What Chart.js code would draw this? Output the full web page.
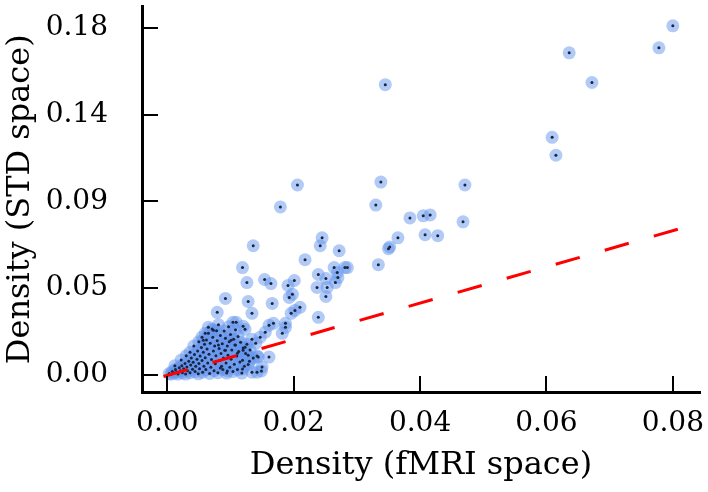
<!DOCTYPE html>
<html>
<head>
<meta charset="utf-8">
<script src="https://cdn.jsdelivr.net/npm/chart.js@4"></script>
<style>
  html, body { margin: 0; padding: 0; background: #fff; }
  #wrap { width: 708px; height: 492px; }
</style>
</head>
<body>
<div id="wrap"><canvas id="densityChart" width="708" height="492"></canvas></div>
<script>
// densities per region, fMRI space vs STD space
let fmriDensity = [
  0.0800, 0.0778, 0.0636, 0.0672, 0.0609, 0.0615, 0.0345, 0.0338, 0.0471, 0.0330,
  0.0384, 0.0405, 0.0416, 0.0468, 0.0408, 0.0428, 0.0365, 0.0350, 0.0352, 0.0272,
  0.0334, 0.0264, 0.0281, 0.0285, 0.0269, 0.0270, 0.0206, 0.0179, 0.0136, 0.0245,
  0.0242, 0.0218, 0.0119, 0.0239, 0.0251, 0.0154, 0.0126, 0.0164, 0.0201, 0.0191,
  0.0266, 0.0237, 0.0253, 0.0092, 0.0128, 0.0198, 0.0193, 0.0251, 0.0166, 0.0079,
  0.0210, 0.0196, 0.0239, 0.0134, 0.0104, 0.0109, 0.0120, 0.0123, 0.0161, 0.0168,
  0.0187, 0.0187, 0.0134, 0.0147, 0.0155, 0.0182, 0.0202, 0.0119, 0.0130, 0.0144,
  0.0161, 0.0119, 0.0134, 0.0142, 0.0149, 0.0150, 0.0095, 0.0084, 0.0128, 0.0142,
  0.0003, 0.0006, 0.0008, 0.0011, 0.0013, 0.0015, 0.0017, 0.0019, 0.0021, 0.0023,
  0.0024, 0.0026, 0.0028, 0.0029, 0.0031, 0.0032, 0.0034, 0.0036, 0.0037, 0.0038,
  0.0040, 0.0041, 0.0043, 0.0044, 0.0045, 0.0047, 0.0048, 0.0049, 0.0050, 0.0051,
  0.0052, 0.0054, 0.0055, 0.0056, 0.0057, 0.0058, 0.0059, 0.0060, 0.0061, 0.0062,
  0.0063, 0.0064, 0.0065, 0.0066, 0.0067, 0.0068, 0.0069, 0.0070, 0.0071, 0.0072,
  0.0073, 0.0074, 0.0075, 0.0076, 0.0077, 0.0078, 0.0079, 0.0080, 0.0081, 0.0082,
  0.0083, 0.0084, 0.0085, 0.0086, 0.0087, 0.0088, 0.0089, 0.0090, 0.0091, 0.0092,
  0.0093, 0.0094, 0.0095, 0.0096, 0.0097, 0.0098, 0.0099, 0.0100, 0.0101, 0.0102,
  0.0104, 0.0105, 0.0106, 0.0107, 0.0108, 0.0110, 0.0111, 0.0112, 0.0113, 0.0115,
  0.0116, 0.0118, 0.0120, 0.0122, 0.0124, 0.0126, 0.0128, 0.0131, 0.0136, 0.0140,
  0.0060, 0.0057, 0.0065, 0.0073, 0.0092, 0.0108, 0.0120, 0.0101, 0.0081, 0.0012,
  0.0022, 0.0030, 0.0036, 0.0042, 0.0050, 0.0055, 0.0111, 0.0123
];
let stdDensity = [
  0.1810, 0.1696, 0.1670, 0.1516, 0.1232, 0.1139, 0.1505, 0.1000, 0.0985, 0.0881,
  0.0814, 0.0825, 0.0830, 0.0794, 0.0727, 0.0722, 0.0711, 0.0655, 0.0664, 0.0644,
  0.0572, 0.0557, 0.0557, 0.0557, 0.0531, 0.0505, 0.0985, 0.0871, 0.0670, 0.0711,
  0.0670, 0.0598, 0.0557, 0.0521, 0.0500, 0.0495, 0.0479, 0.0474, 0.0490, 0.0464,
  0.0479, 0.0454, 0.0454, 0.0397, 0.0381, 0.0418, 0.0402, 0.0407, 0.0371, 0.0325,
  0.0351, 0.0320, 0.0299, 0.0320, 0.0273, 0.0273, 0.0253, 0.0237, 0.0258, 0.0268,
  0.0268, 0.0247, 0.0186, 0.0196, 0.0222, 0.0216, 0.0335, 0.0077, 0.0072, 0.0093,
  0.0093, 0.0031, 0.0015, 0.0015, 0.0021, 0.0041, 0.0021, 0.0036, 0.0103, 0.0098,
  0.0008, 0.0004, 0.0018, 0.0010, 0.0028, 0.0016, 0.0005, 0.0038, 0.0022, 0.0048,
  0.0012, 0.0032, 0.0060, 0.0005, 0.0042, 0.0022, 0.0072, 0.0012, 0.0052, 0.0088,
  0.0030, 0.0066, 0.0106, 0.0018, 0.0045, 0.0082, 0.0125, 0.0006, 0.0060, 0.0032,
  0.0098, 0.0142, 0.0075, 0.0015, 0.0118, 0.0045, 0.0160, 0.0090, 0.0028, 0.0182,
  0.0135, 0.0062, 0.0216, 0.0108, 0.0008, 0.0165, 0.0040, 0.0080, 0.0238, 0.0196,
  0.0125, 0.0022, 0.0150, 0.0058, 0.0100, 0.0230, 0.0178, 0.0012, 0.0260, 0.0138,
  0.0075, 0.0205, 0.0112, 0.0046, 0.0162, 0.0028, 0.0088, 0.0228, 0.0128, 0.0190,
  0.0062, 0.0010, 0.0150, 0.0102, 0.0250, 0.0172, 0.0040, 0.0210, 0.0082, 0.0130,
  0.0018, 0.0185, 0.0056, 0.0155, 0.0235, 0.0098, 0.0028, 0.0200, 0.0122, 0.0068,
  0.0170, 0.0010, 0.0140, 0.0045, 0.0112, 0.0160, 0.0055, 0.0130, 0.0088, 0.0165,
  0.0216, 0.0180, 0.0247, 0.0232, 0.0129, 0.0155, 0.0129, 0.0180, 0.0155, 0.0048,
  0.0078, 0.0100, 0.0118, 0.0150, 0.0172, 0.0196, 0.0113, 0.0144
];

// red dashed reference line (two end points)
let lineX = [-0.0006, 0.0816];
let lineY = [-0.0008, 0.0763];

let xTicks = [0, 0.02, 0.04, 0.06, 0.08];
let xTickLabels = ["0.00", "0.02", "0.04", "0.06", "0.08"];
let yTicks = [0, 0.045, 0.09, 0.135, 0.18];
let yTickLabels = ["0.00", "0.05", "0.09", "0.14", "0.18"];

let points = fmriDensity.map((x, i) => ({x: x, y: stdDensity[i]}));
let linePoints = lineX.map((x, i) => ({x: x, y: lineY[i]}));

const serif = "'DejaVu Serif', serif";

// matplotlib style ticks pointing into the plot
const inwardTicks = {
    id: "inwardTicks",
    afterDraw(chart){
        let ctx = chart.ctx;
        let area = chart.chartArea;
        let xs = chart.scales.x, ys = chart.scales.y;
        ctx.save();
        ctx.strokeStyle = "black";
        ctx.lineWidth = 2;
        xTicks.forEach(v => {
            let px = Math.round(xs.getPixelForValue(v));
            ctx.beginPath();
            ctx.moveTo(px, area.bottom);
            ctx.lineTo(px, area.bottom - 16);
            ctx.stroke();
        });
        yTicks.forEach(v => {
            let py = Math.round(ys.getPixelForValue(v));
            ctx.beginPath();
            ctx.moveTo(area.left, py);
            ctx.lineTo(area.left + 16, py);
            ctx.stroke();
        });
        ctx.restore();
    }
};

let ctx = document.getElementById("densityChart");

let chart = new Chart(ctx, {
    type: "scatter",
    data: {
        datasets: [
            {
                type: "line",
                data: linePoints,
                borderColor: "#ff0000",
                borderWidth: 3,
                borderDash: [25, 26],
                pointRadius: 0,
                fill: false,
                order: 0
            },
            {
                data: points,
                backgroundColor: "#1b2440",
                borderWidth: 0,
                pointRadius: 1.5,
                order: 1
            },
            {
                data: points,
                backgroundColor: "rgba(100,149,237,0.5)",
                borderWidth: 0,
                pointRadius: 6.5,
                order: 2
            }
        ]
    },
    options: {
        responsive: false,
        animation: false,
        layout: { padding: { top: 4, right: 8, left: 0, bottom: 0 } },
        plugins: {
            legend: { display: false },
            tooltip: { enabled: false }
        },
        scales: {
            x: {
                type: "linear",
                min: -0.004,
                max: 0.0843,
                afterBuildTicks: s => { s.ticks = xTicks.map(v => ({value: v})); },
                afterFit: s => { s.height = 100; s.paddingLeft = 0; s.paddingRight = 0; },
                grid: { display: false, drawTicks: false },
                border: { display: true, color: "black", width: 3 },
                ticks: {
                    color: "black",
                    font: { family: serif, size: 28 },
                    padding: 15,
                    maxRotation: 0,
                    callback: v => xTickLabels[xTicks.indexOf(v)]
                },
                title: {
                    display: true,
                    text: "Density (fMRI space)",
                    color: "black",
                    font: { family: serif, size: 32 },
                    padding: { top: 0, bottom: 7 }
                }
            },
            y: {
                type: "linear",
                min: -0.0088,
                max: 0.191,
                afterBuildTicks: s => { s.ticks = yTicks.map(v => ({value: v})); },
                afterFit: s => { s.width = 142; s.paddingTop = 0; s.paddingBottom = 0; },
                grid: { display: false, drawTicks: false },
                border: { display: true, color: "black", width: 3 },
                ticks: {
                    color: "black",
                    font: { family: serif, size: 28 },
                    padding: 34,
                    callback: v => yTickLabels[yTicks.indexOf(v)]
                },
                title: {
                    display: true,
                    text: "Density (STD space)",
                    color: "black",
                    font: { family: serif, size: 32 },
                    padding: { top: 1, bottom: 0 }
                }
            }
        }
    },
    plugins: [inwardTicks]
});
</script>
</body>
</html>
